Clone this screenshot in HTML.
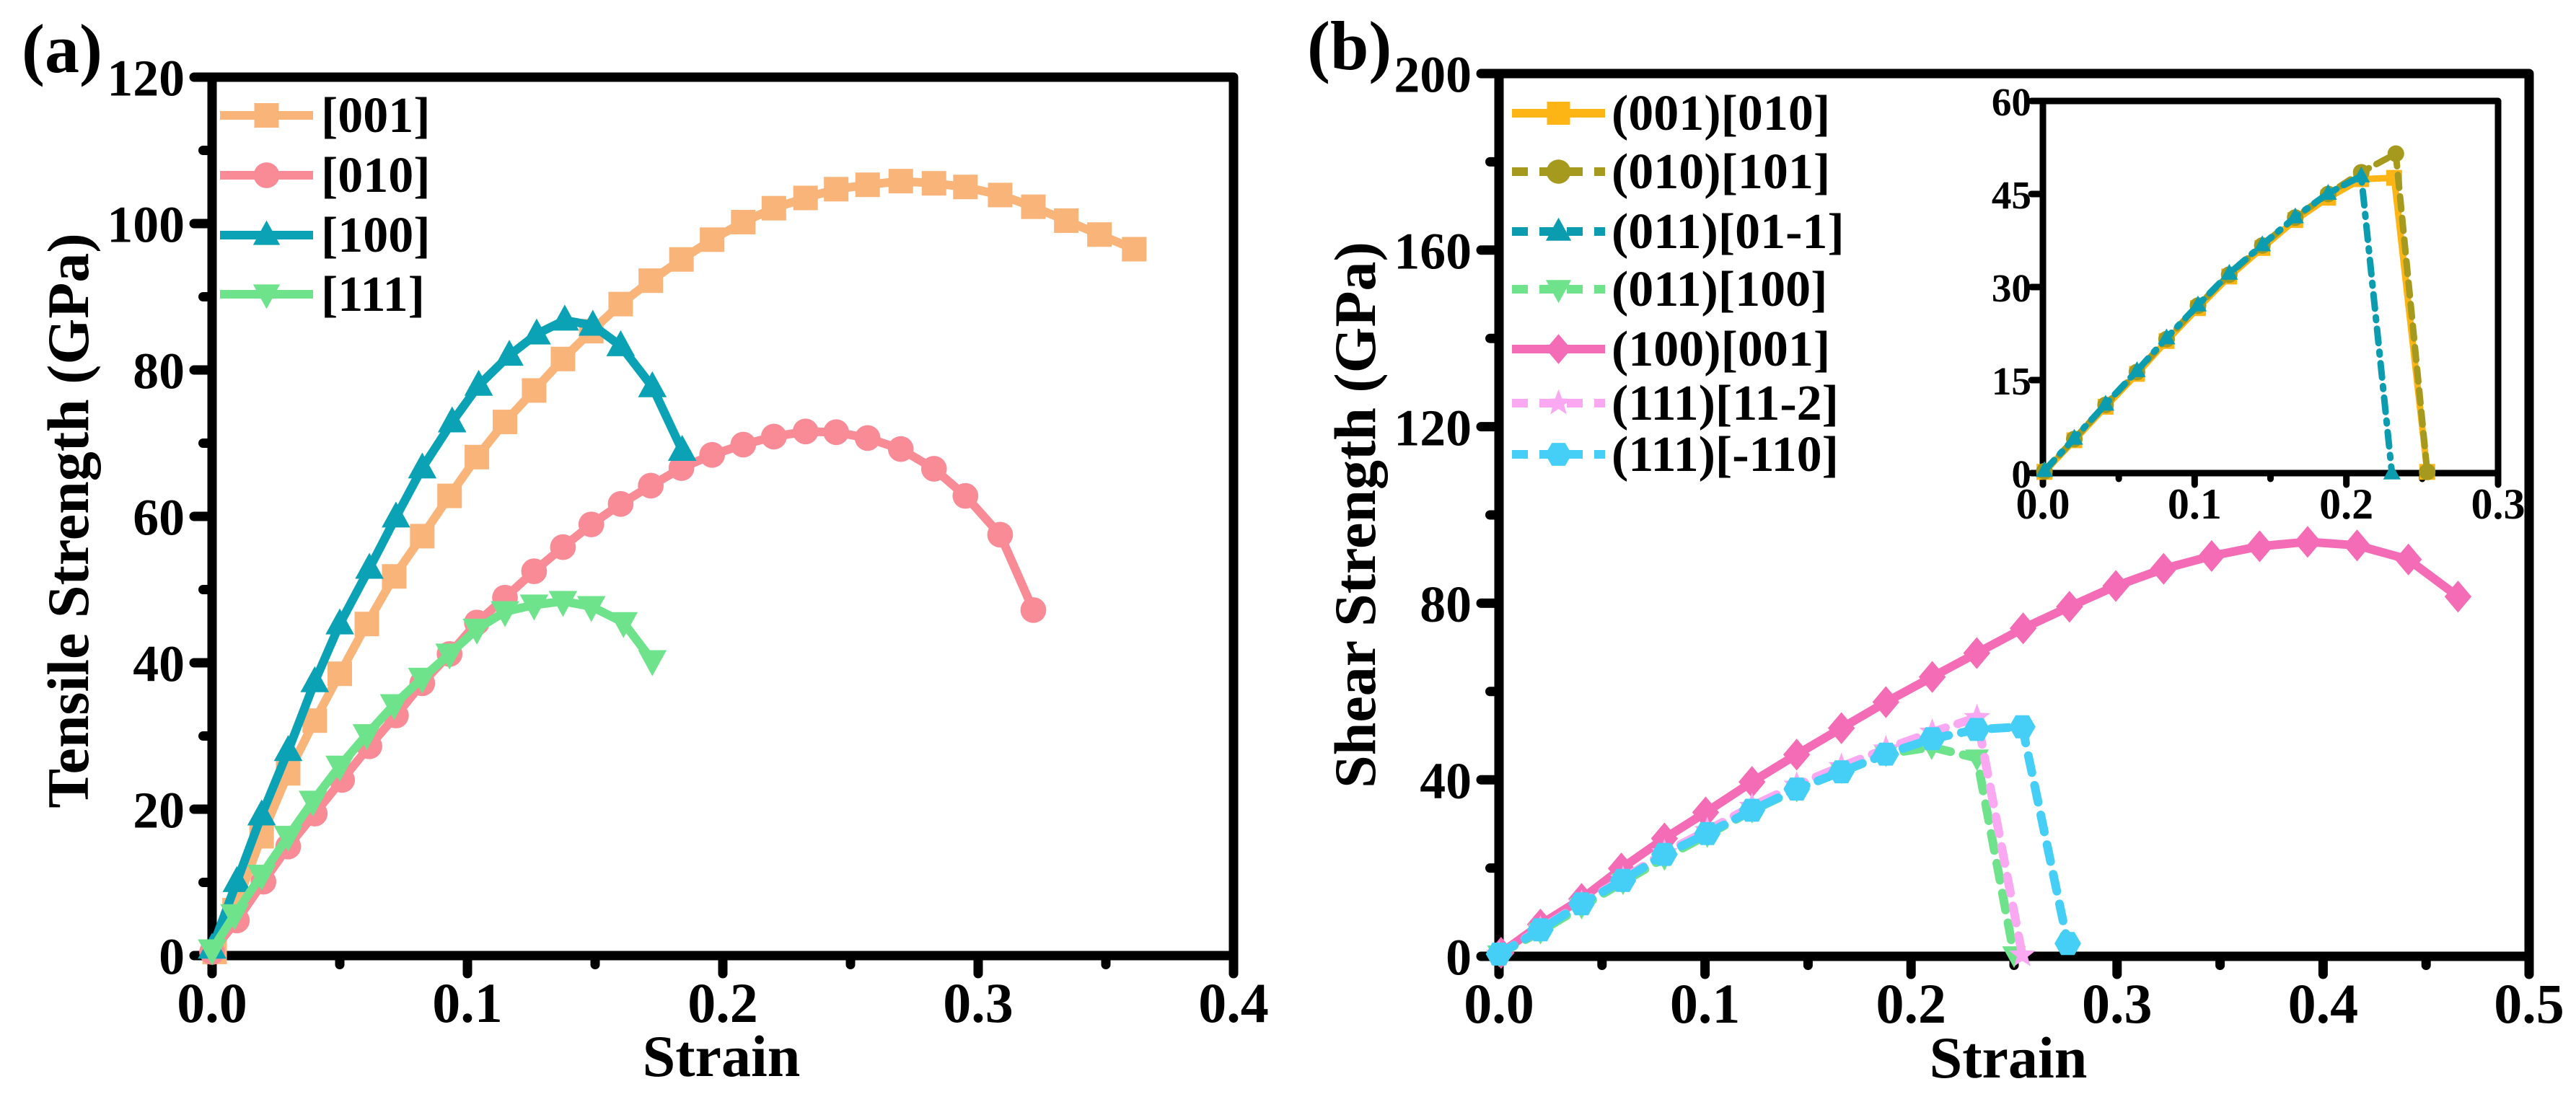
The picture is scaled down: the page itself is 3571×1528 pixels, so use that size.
<!DOCTYPE html>
<html><head><meta charset="utf-8"><style>
html,body{margin:0;padding:0;background:#fff;}
svg{display:block;}
svg text{font-family:"Liberation Serif","Times New Roman",Times,"DejaVu Serif",serif;font-weight:bold;}
</style></head><body>
<svg id="fig" width="3571" height="1528" viewBox="0 0 3571 1528" xmlns="http://www.w3.org/2000/svg"></svg>
<script>
// ---- Panel (a) data ----
const aX001=[0.001,0.0088,0.0194,0.0298,0.0402,0.05,0.0606,0.0713,0.0823,0.093,0.1037,0.1147,0.1261,0.1374,0.1485,0.160,0.1718,0.1838,0.1958,0.208,0.220,0.2324,0.2444,0.2567,0.2697,0.2827,0.295,0.3086,0.3216,0.3345,0.3475,0.3611];
const aY001=[0.5,6.2,16.3,24.9,32.1,38.5,45.3,51.8,57.3,62.8,68.1,72.9,77.2,81.5,85.3,89.0,92.2,95.1,97.8,100.2,102.1,103.5,104.7,105.3,105.8,105.5,105.0,103.9,102.3,100.4,98.5,96.5];
const aX010=[0.0,0.0097,0.0201,0.0298,0.0402,0.0509,0.0616,0.0720,0.0823,0.093,0.1037,0.1147,0.1261,0.1374,0.1485,0.160,0.1718,0.1838,0.1958,0.208,0.220,0.2324,0.2444,0.2567,0.2697,0.2827,0.295,0.3086,0.3216];
const aY010=[0.5,4.8,10.1,14.9,19.4,24.0,28.6,32.8,37.2,41.2,45.5,48.9,52.5,55.8,58.9,61.7,64.2,66.6,68.4,69.8,70.9,71.6,71.5,70.7,69.2,66.5,62.8,57.5,47.2];
const aX100=[0,0.0097,0.0194,0.0298,0.0402,0.05,0.0616,0.072,0.0823,0.094,0.1044,0.1164,0.1271,0.1381,0.1491,0.160,0.1724,0.1841];
const aY100=[1,10.1,19.2,28.0,37.4,45.3,52.9,59.9,66.6,72.9,77.9,82.0,84.9,86.8,86.1,83.3,77.7,69.0];
const aX111=[0,0.0088,0.0194,0.0298,0.0395,0.05,0.0606,0.0713,0.0823,0.093,0.1037,0.1147,0.1261,0.1374,0.1485,0.1611,0.1724];
const aY111=[0.8,5.6,11.0,16.3,21.1,25.9,30.2,34.3,37.9,41.2,44.6,47.0,47.9,48.4,47.7,45.5,40.3];
const aXTicks=["0.0","0.1","0.2","0.3","0.4"];
const aYTicks=["0","20","40","60","80","100","120"];
// ---- Panel (b) data ----
const bX100=[0.001,0.0201,0.0401,0.0594,0.0803,0.1003,0.1228,0.1445,0.1662,0.1878,0.2103,0.2319,0.2544,0.2769,0.2994,0.3226,0.3459,0.3692,0.3925,0.4165,0.4414,0.4655];
const bY100=[0.8,7.2,13.0,19.9,26.7,32.6,39.5,45.7,51.7,57.6,63.3,68.7,74.3,79.2,83.9,87.8,90.7,92.9,93.9,93.1,89.9,81.5];
const bX110=[0,0.0201,0.0401,0.0602,0.0803,0.1011,0.1228,0.1445,0.1662,0.1878,0.2103,0.2319,0.2540,0.2761];
const bY110=[0.5,6.0,11.9,17.2,23.1,27.8,33.1,37.9,41.8,45.8,49.3,51.4,52.0,2.9];
const bX112=[0,0.0201,0.0401,0.0602,0.0803,0.1011,0.1228,0.1445,0.1662,0.1878,0.2103,0.232,0.254];
const bY112=[0.5,6.2,12,17.5,23.5,28.5,34,38.8,43,47,50.8,54.1,0.3];
const bX011=[0,0.0201,0.0401,0.0602,0.0803,0.1011,0.1228,0.1445,0.1662,0.1878,0.21,0.232,0.25];
const bY011=[0.5,5.6,11.3,16.8,22.3,27.5,33,37.8,42,45.8,47.4,44.9,0.3];
const bXTicks=["0.0","0.1","0.2","0.3","0.4","0.5"];
const bYTicks=["0","40","80","120","160","200"];
// ---- Inset data ----
const iX001=[0.001,0.0207,0.0413,0.062,0.0815,0.1022,0.1228,0.1446,0.1663,0.188,0.2098,0.2315,0.2533];
const iY001=[0.2,5.3,10.7,16.0,21.3,26.6,31.7,36.3,40.8,44.4,47.4,47.6,0.2];
const iX010=[0.001,0.0207,0.0413,0.062,0.0815,0.1022,0.1228,0.1446,0.1663,0.188,0.2098,0.2326,0.2533];
const iY010=[0.3,5.5,11.0,16.3,21.6,27.0,32.0,36.7,41.2,45.0,48.5,51.5,0.2];
const iX0111=[0.001,0.0207,0.0413,0.062,0.0815,0.1022,0.1228,0.1446,0.1663,0.188,0.2098,0.23];
const iY0111=[0.4,5.6,11.1,16.5,21.8,27.1,32.2,36.8,41.3,45.1,47.9,0];
const iXTicks=["0.0","0.1","0.2","0.3"];
const iYTicks=["0","15","30","45","60"];

const NS="http://www.w3.org/2000/svg";
const FONT='"Liberation Serif","Times New Roman",Times,"DejaVu Serif",serif';
const svg=document.getElementById('fig');
function mk(tag,attrs,parent){const e=document.createElementNS(NS,tag);for(const k in attrs)e.setAttribute(k,attrs[k]);(parent||svg).appendChild(e);return e;}
function txt(s,attrs,parent){const e=mk('text',attrs,parent);e.style.fontFamily=FONT;e.style.fontWeight='bold';e.textContent=s;return e;}

function marker(g,type,cx,cy,r,color){
  let e;
  if(type==='square'){e=mk('rect',{x:cx-r,y:cy-r,width:2*r,height:2*r,fill:color},g);}
  else if(type==='circle'){e=mk('circle',{cx:cx,cy:cy,r:r*1.05,fill:color},g);}
  else if(type==='up'){e=mk('polygon',{points:`${cx},${cy-r*1.2} ${cx+r*1.1},${cy+r*0.8} ${cx-r*1.1},${cy+r*0.8}`,fill:color},g);}
  else if(type==='down'){e=mk('polygon',{points:`${cx},${cy+r*1.2} ${cx+r*1.1},${cy-r*0.8} ${cx-r*1.1},${cy-r*0.8}`,fill:color},g);}
  else if(type==='diamond'){e=mk('polygon',{points:`${cx},${cy-r*1.3} ${cx+r*1.1},${cy} ${cx},${cy+r*1.3} ${cx-r*1.1},${cy}`,fill:color},g);}
  else if(type==='star'){let p=[];for(let i=0;i<10;i++){const a=-Math.PI/2+i*Math.PI/5;const rr=i%2?r*0.5:r*1.2;p.push((cx+rr*Math.cos(a)).toFixed(1)+','+(cy+rr*Math.sin(a)).toFixed(1));}e=mk('polygon',{points:p.join(' '),fill:color},g);}
  else if(type==='hex'){let p=[];for(let i=0;i<6;i++){const a=i*Math.PI/3;p.push((cx+r*1.15*Math.cos(a)).toFixed(1)+','+(cy+r*1.15*Math.sin(a)).toFixed(1));}e=mk('polygon',{points:p.join(' '),fill:color},g);}
  
  
}

function series(name,xs,ys,sx,sy,color,type,dash,lw,r){
  const g=mk('g',{});
  
  
  const pts=xs.map((x,i)=>sx(x).toFixed(1)+','+sy(ys[i]).toFixed(1)).join(' ');
  const l=mk('polyline',{points:pts,fill:'none',stroke:color,'stroke-width':lw,'stroke-linejoin':'round','stroke-linecap':'round'},g);
  if(dash)l.setAttribute('stroke-dasharray',dash);
  
  
  xs.forEach((x,i)=>marker(g,type,sx(x),sy(ys[i]),r,color));
}

function axes(name,L,R,T,B,xmax,ymax,xt,yt,xminor,yminor,lw,fs,tlen,xlabY,ylabX){
  const g=mk('g',{});
  
  
  const sx=v=>L+(R-L)*v/xmax, sy=v=>B-(B-T)*v/ymax;
  const f=mk('rect',{x:L,y:T,width:R-L,height:B-T,fill:'none',stroke:'#000','stroke-width':lw,'stroke-linejoin':'round'},g);
  
  
  xt.forEach((s,i)=>{const v=xmax*i/(xt.length-1);const x=sx(v);
    mk('line',{x1:x,y1:B,x2:x,y2:B+tlen,stroke:'#000','stroke-width':lw,'stroke-linecap':'round'},g);
    const t=txt(s,{x:x,y:xlabY,'font-size':fs,'text-anchor':'middle'},g);
    
    
    if(i<xt.length-1){const xm=sx(v+xmax/(xt.length-1)/2);mk('line',{x1:xm,y1:B,x2:xm,y2:B+tlen*0.5,stroke:'#000','stroke-width':lw,'stroke-linecap':'round'},g);}
  });
  yt.forEach((s,i)=>{const v=ymax*i/(yt.length-1);const y=sy(v);
    mk('line',{x1:L,y1:y,x2:L-tlen,y2:y,stroke:'#000','stroke-width':lw,'stroke-linecap':'round'},g);
    const t=txt(s,{x:ylabX,y:y+fs*0.33,'font-size':fs*0.92,'text-anchor':'end'},g);
    
    
    if(yminor&&i<yt.length-1){const ym=sy(v+ymax/(yt.length-1)/2);mk('line',{x1:L,y1:ym,x2:L-tlen*0.5,y2:ym,stroke:'#000','stroke-width':lw,'stroke-linecap':'round'},g);}
  });
  return {sx,sy};
}

function legend(name,items,x1,x2,tx,ys,fs,lw,r){
  const g=mk('g',{});
  
  
  items.forEach((it,i)=>{
    const e=mk('g',{},g);
    
    
    const l=mk('line',{x1:x1,y1:ys[i],x2:x2,y2:ys[i],stroke:it.c,'stroke-width':lw},e);
    if(it.d)l.setAttribute('stroke-dasharray',it.d);
    marker(e,it.t,(x1+x2)/2,ys[i],r,it.c);
    txt(it.n,{x:tx,y:ys[i]+fs*0.33,'font-size':fs},e);
  });
}

// ---- Panel a ----
const pa=axes('panel-a-axes',294,1710,107,1325,0.4,120,aXTicks,aYTicks,true,true,13,78,25,1417,256);
series('series-001',aX001,aY001,pa.sx,pa.sy,'#f9b47a','square',null,12,17);
series('series-010',aX010,aY010,pa.sx,pa.sy,'#f88b96','circle',null,12,17);
series('series-100',aX100,aY100,pa.sx,pa.sy,'#0aa2b4','up',null,12,18);
series('series-111',aX111,aY111,pa.sx,pa.sy,'#6fe38c','down',null,12,18);
legend('legend-a',[{n:'[001]',c:'#f9b47a',t:'square'},{n:'[010]',c:'#f88b96',t:'circle'},{n:'[100]',c:'#0aa2b4',t:'up'},{n:'[111]',c:'#6fe38c',t:'down'}],305,434,445,[160,243,326,408],70,12,17);
let t=txt('Strain',{x:1000,y:1492,'font-size':82,'text-anchor':'middle'});


t=txt('Tensile Strength (GPa)',{x:0,y:0,'font-size':82,'text-anchor':'middle',transform:'translate(122,722) rotate(-90)'});


t=txt('(a)',{x:30,y:100,'font-size':96});



// ---- Panel b ----
const pb=axes('panel-b-axes',2078,3506,102,1326,0.5,200,bXTicks,bYTicks,true,true,13,78,25,1418,2040);
series('series-100-001',bX100,bY100,pb.sx,pb.sy,'#f56cb6','diamond',null,12,17);
series('series-011-100',bX011,bY011,pb.sx,pb.sy,'#6fe38c','down','24,18',12,15);
series('series-111-11-2',bX112,bY112,pb.sx,pb.sy,'#f9a8f1','star','24,18',12,16);
series('series-111-m110',bX110,bY110,pb.sx,pb.sy,'#45cff6','hex','24,18',12,16);
legend('legend-b',[
 {n:'(001)[010]',c:'#fdb515',t:'square'},
 {n:'(010)[101]',c:'#a59a1e',t:'circle',d:'22,16'},
 {n:'(011)[01-1]',c:'#0b9cb0',t:'up',d:'22,16'},
 {n:'(011)[100]',c:'#6fe38c',t:'down',d:'22,16'},
 {n:'(100)[001]',c:'#f56cb6',t:'diamond'},
 {n:'(111)[11-2]',c:'#f9a8f1',t:'star',d:'22,16'},
 {n:'(111)[-110]',c:'#45cff6',t:'hex',d:'22,16'}],2096,2225,2234,[157,238,321,401,484,559,630],70,12,16);
t=txt('Strain',{x:2784,y:1494,'font-size':82,'text-anchor':'middle'});


t=txt('Shear Strength (GPa)',{x:0,y:0,'font-size':82,'text-anchor':'middle',transform:'translate(1906,714) rotate(-90)'});


t=txt('(b)',{x:1812,y:96,'font-size':96});



// ---- Inset ----
const pi=axes('inset-axes',2832,3463,140,656,0.3,60,iXTicks,iYTicks,true,false,9,60,16,719,2816);
series('inset-001-010',iX001,iY001,pi.sx,pi.sy,'#fdb515','square',null,9,11);
series('inset-010-101',iX010,iY010,pi.sx,pi.sy,'#a59a1e','circle','18,12',9,11);
series('inset-011-01-1',iX0111,iY0111,pi.sx,pi.sy,'#0b9cb0','up','20,12,4,12',9,11);
</script>
</body></html>
